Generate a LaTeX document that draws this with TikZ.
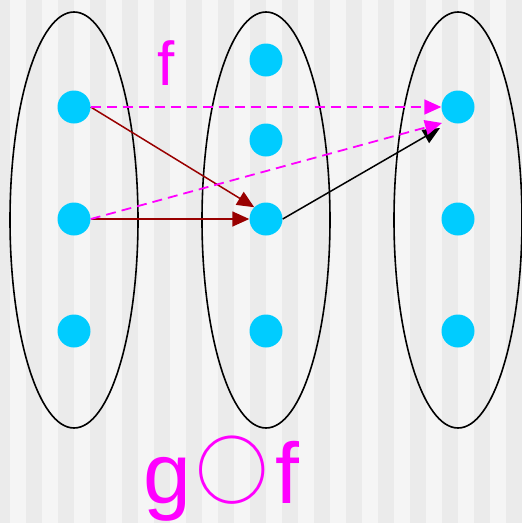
\documentclass[tikz,border=0pt]{standalone}
\usepackage{fontspec}
\usepackage{graphicx}
\setmainfont{Liberation Sans}
\usetikzlibrary{arrows.meta}
\definecolor{stripeA}{HTML}{EBEBEB}
\definecolor{stripeB}{HTML}{F5F5F5}
\definecolor{dotc}{HTML}{00CCFF}
\definecolor{redc}{HTML}{990000}
\definecolor{magc}{HTML}{FF00FF}
\tikzset{
  dot/.style={circle,fill=dotc,draw=none,minimum size=33pt,inner sep=0pt},
  setell/.style={draw=black,line width=1.6pt},
  tip/.style={-{Triangle[length=17pt,width=15pt]}},
  redarrow/.style={tip,draw=redc,fill=redc,line width=1.5pt},
  blkarrow/.style={tip,draw=black,line width=1.5pt},
  magarrow/.style={tip,draw=magc,line width=1.8pt,dash pattern=on 10pt off 6pt},
  lbl/.style={text=magc,inner sep=0pt,anchor=base}
}
\begin{document}
\begin{tikzpicture}[x=1pt,y=-1pt]
\useasboundingbox (0,0) rectangle (522,523);
\fill[stripeB] (0,0) rectangle (522,523);
\begin{scope}
\clip (0,0) rectangle (522,523);
\foreach \k in {0,...,16}{
  \fill[stripeA] (32*\k-6,0) rectangle (32*\k+10,523);
}
\end{scope}
% sets
\draw[setell] (74,220) ellipse [x radius=64, y radius=208];
\draw[setell] (266,220) ellipse [x radius=64, y radius=208];
\draw[setell] (458,220) ellipse [x radius=64, y radius=208];
% dots
\node[dot] (l1) at (74,107) {};
\node[dot] (l2) at (74,219) {};
\node[dot] (l3) at (74,331) {};
\node[dot] (m1) at (266,60) {};
\node[dot] (m2) at (266,140) {};
\node[dot] (m3) at (266,219) {};
\node[dot] (m4) at (266,331) {};
\node[dot] (r1) at (458,107) {};
\node[dot] (r2) at (458,219) {};
\node[dot] (r3) at (458,331) {};
\coordinate (rin) at (442,123);
\coordinate (rinb) at (440,128);
% arrows
\draw[redarrow] (l1.east) -- (m3.135);
\draw[redarrow] (l2.east) -- (m3.west);
\draw[blkarrow] (m3.east) -- (rinb);
\draw[magarrow] (l1.east) -- (r1.west);
\draw[magarrow] (l2.east) -- (rin);
% labels
\node[lbl,font=\fontsize{62}{62}\selectfont] (fl) at (166,85) {f};
\node[lbl,anchor=base west,font=\fontsize{86}{86}\selectfont] (gg) at (143,503) {g};
\node[text=magc,inner sep=0pt] (oo) at (232,470) {\resizebox{!}{51pt}{$\bigcirc$}};
\node[lbl,anchor=base east,font=\fontsize{86}{86}\selectfont] (ff) at (300,503) {f};
\end{tikzpicture}
\end{document}
